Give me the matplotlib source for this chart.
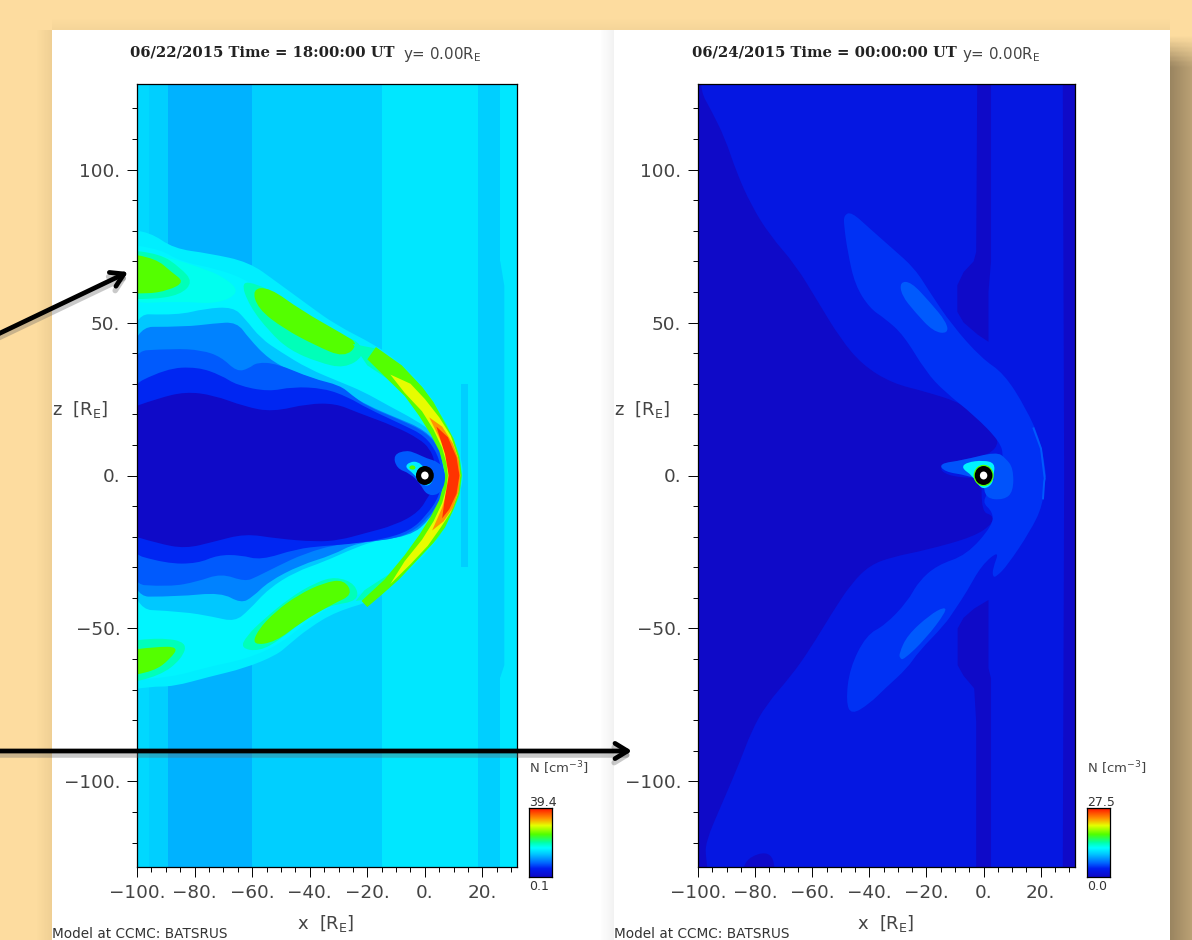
import numpy as np
import matplotlib
matplotlib.use('Agg')
import matplotlib.pyplot as plt
from matplotlib.colors import LinearSegmentedColormap
from matplotlib.patches import Circle, Rectangle, PathPatch
from matplotlib.path import Path
from matplotlib.ticker import FixedLocator, FixedFormatter

plt.rcParams['font.family'] = ['DejaVu Sans']
plt.rcParams['mathtext.default'] = 'regular'

# labels
titles = ['06/22/2015 Time = 18:00:00 UT', '06/24/2015 Time = 00:00:00 UT']
y_note = 'y= 0.00R$_{E}$'
model_note = 'Model at CCMC: BATSRUS'
x_ticks = [-100, -80, -60, -40, -20, 0, 20]
x_tick_labels = ['\u2212100.', '\u221280.', '\u221260.', '\u221240.', '\u221220.', '0.', '20.']
z_ticks = [-100, -50, 0, 50, 100]
z_tick_labels = ['\u2212100.', '\u221250.', '0.', '50.', '100.']
cbar_max = [39.4, 27.5]
cbar_min = ['0.1', '0.0']
x_range = [-100, 32]
z_range = [-128, 128]

# density levels of the 06/22 panel, cm-3
strip_edges_1 = [-100, -95.7, -89.3, -60, -15, 18.6, 26.2, 32]
strip_levels_1 = [14.1, 13.5, 11.9, 13.5, 15.0, 13.5, 15.0]
lvl_a, lvl_b, lvl_cyan, lvl_teal, lvl_green, lvl_yellow, lvl_orange, lvl_red = 15.4, 16.0, 17.2, 19.2, 24.5, 29.6, 33.5, 38.0
lvl_c1, lvl_c2, lvl_c3, lvl_c4, lvl_dark = 13.0, 9.5, 7.5, 5.2, 0.1

# contours of the 06/22 panel (x, z in RE)
strip_wide_mid = [(18.6, 70), (20.3, 62), (20.3, -62), (18.6, -66), (26.2, -66), (27.6, -62), (27.6, 62), (26.2, 70)]
strip_edge_mid = [(-15, 128), (-15, 70), (-17, 47), (-19, 47), (-19, 128)]
strip_edge_low = [(-15, -128), (-15, -65), (-17, -42), (-19, -42), (-19, -128)]
streak_up = [(-27.4, 46), (-24.7, 46), (-24.7, 60), (-26, 60), (-27.4, 52)]
streak_lo = [(-27.8, -46), (-24.7, -46), (-24.7, -60), (-26, -58), (-27.4, -52)]
streak_nose = [(12.4, 30), (15, 30), (15, -30), (12.4, -30)]
sheath_a = [(-100, 80.7), (-95.5, 79.6), (-87.3, 74.2), (-74.9, 72.6), (-61.1, 69.8), (-51.5, 63.3), (-40.5, 55.7),
            (-30.9, 49.2), (-17.1, 42.6), (-8.9, 37.2), (-0.6, 29.5), (7.6, 17.6), (12.4, 6.7), (13.4, 0), (12.4, -5),
            (10.4, -10.8), (4.9, -20.6), (-2, -28.2), (-10.2, -34.7), (-17.1, -40.7), (-30.9, -44.5), (-40.5, -50),
            (-47.4, -55.4), (-51.5, -58.7), (-62.5, -63), (-74.9, -65.8), (-87.3, -69), (-95.5, -69), (-100, -70.7)]
sheath_b = [(-100, 76), (-92, 74), (-85, 70), (-72, 67.5), (-62, 64), (-52, 58), (-40, 50), (-30, 45), (-18, 39.5),
            (-9, 33.5), (-1, 26), (6, 16), (10, 7), (11, 0), (10, -7), (5, -17), (-2, -25), (-10, -32), (-18, -37),
            (-31, -42), (-40, -47), (-50, -55), (-62, -60), (-75, -62.5), (-88, -66), (-100, -67)]
contour_c1 = [(-100, 53), (-85.9, 52.4), (-76.3, 54.6), (-66.6, 55.1), (-62.5, 51.3), (-57, 44.8), (-50.1, 40.4),
              (-40.5, 34.9), (-29.5, 30.6), (-21.3, 27.4), (-13, 23), (-3, 18), (3, 14), (7, 8), (8, 0), (7.2, -7),
              (3, -13), (-3, -17.5), (-15.8, -21), (-24, -23.5), (-35, -28.2), (-45, -31.5), (-54.3, -37), (-61.1, -44),
              (-66, -47.8), (-73.5, -46.2), (-84, -44.5), (-100, -43.5)]
contour_c2 = [(-100, 48.6), (-83.2, 48.6), (-73.5, 49.7), (-65.3, 50.2), (-61.1, 44.8), (-54.3, 38.1), (-46, 33.9),
              (-35, 30.6), (-26.8, 26.8), (-19.9, 22.9), (-10.2, 19), (0, 15), (6.5, 8), (7.5, 0), (6.7, -7), (2, -14),
              (-5, -20), (-24, -22), (-32, -26), (-43.3, -29.3), (-54.3, -34.7), (-59.8, -39.7), (-63.9, -41.8),
              (-70.8, -38.2), (-85.9, -39.6), (-100, -39.6)]
contour_c3 = [(-100, 40.4), (-87.3, 41.5), (-77.6, 41), (-70.8, 38.8), (-65.3, 33.9), (-61.1, 35), (-58.4, 37),
              (-51.5, 36.6), (-39.1, 31.7), (-29.5, 29.5), (-25.4, 26.3), (-19.9, 22.5), (-8.9, 18.3), (0.8, 14),
              (6, 7.5), (7, 0), (6.2, -7), (1.5, -13.5), (-5, -19), (-15, -21.5), (-29.5, -22.2), (-41.9, -25.5),
              (-51.5, -29.8), (-58.4, -33.1), (-62.5, -34.7), (-70.8, -32), (-79, -34.7), (-88.7, -36.4), (-100, -35.3)]
contour_c4 = [(-100, 27.4), (-90, 35), (-79, 35.5), (-70.8, 32.8), (-65.3, 29.5), (-54.3, 27.4), (-46, 29), (-35, 28.5),
              (-26.8, 25.7), (-19.9, 21.9), (-7.5, 16.5), (0, 13), (4.5, 7), (6.2, 0), (5, -7), (0.5, -13), (-5, -18),
              (-15, -21), (-26.8, -22.5), (-35, -23), (-44.6, -24), (-57, -27.7), (-64, -26), (-72, -26), (-79, -28.8),
              (-90, -28.8), (-100, -24.4)]
contour_dark = [(-100, 20.8), (-92.8, 25.2), (-83.2, 27.4), (-73.5, 26.3), (-62.5, 22.5), (-52.9, 20.8), (-40.5, 23.5),
                (-30.9, 23.5), (-24, 20.8), (-10.2, 16), (-2, 12), (1.7, 8.8), (3.5, 4.5), (3.8, 0), (3.5, -4),
                (1.4, -6.4), (-2, -11.9), (-10.2, -16.2), (-21.3, -19), (-29.5, -21.1), (-37.8, -21.7), (-51.5, -20.6),
                (-62.5, -19), (-73.5, -21.7), (-83.2, -23.9), (-92.8, -22.2), (-100, -18.4)]
teal_ridge_up = [(-64, 63.5), (-58, 62.5), (-52, 59.5), (-40, 51), (-30, 46), (-23, 44), (-21, 39), (-28, 35),
                 (-37, 37), (-47, 41), (-54, 47), (-61, 55.5)]
green_ridge_up = [(-60, 61), (-54, 61.5), (-43, 54), (-28, 46), (-23, 43), (-28, 38.5), (-38, 42.5), (-49, 48), (-58, 54.5)]
teal_ridge_lo = [(-64, -56.5), (-57.5, -57.5), (-50, -53.5), (-41, -46.5), (-33, -42.5), (-23, -41), (-24, -35.5), (-31, -33),
                 (-38, -35), (-47, -40), (-56, -47), (-62, -52.5)]
green_ridge_lo = [(-60, -55.5), (-52, -54.5), (-43, -48), (-32, -42), (-25, -39), (-28, -34), (-35, -35), (-44, -39),
                  (-52, -44.5), (-58, -50.5)]
cyan_blob_up = [(-100, 75), (-88, 71), (-78, 68), (-70, 65), (-64, 60), (-72, 56), (-85, 57), (-100, 56)]
teal_blob_up = [(-100, 74), (-92, 72.5), (-85, 68), (-80.5, 63.3), (-85, 59), (-95.5, 57.5), (-100, 58)]
green_blob_up = [(-100, 73), (-93.5, 71), (-88, 66.5), (-83.5, 63.3), (-89, 60.5), (-96.9, 59.3), (-100, 60)]
teal_blob_lo = [(-100, -54.5), (-92, -53), (-82.5, -54.5), (-84.5, -60), (-92, -65.5), (-100, -68.5)]
green_blob_lo = [(-100, -57.5), (-93.5, -56), (-85.5, -56), (-88.5, -60), (-94, -64), (-100, -66)]
teal_crescent = [(-25, 43), (-17, 41.5), (-8.5, 36), (-0.5, 28.5), (7.5, 17), (12, 7), (13, 0), (12, -7), (10, -11),
                 (5, -20), (-2, -27), (-10, -33.5), (-17, -40), (-24, -41), (-21, -37.5), (-12, -32), (-4, -23), (1, -17),
                 (5, -10), (6.9, 0), (5, 10), (1, 17), (-4, 23), (-12, 31), (-20, 36)]
green_crescent = [(-17, 42), (-8, 36), (-1, 29), (3, 24), (6.5, 18), (10, 12), (12, 6), (12.8, 0), (12, -6), (10, -11),
                  (7, -17), (3, -22), (-3, -28), (-9, -34), (-15, -39), (-20, -43), (-22, -41), (-14, -34), (-7, -26),
                  (-2, -19.5), (2, -13.5), (5, -8), (6.5, -3), (7, 0), (6.5, 3), (5, 8), (2, 13.5), (-2, 19.5), (-7, 26),
                  (-13, 31.5), (-20, 38)]
yellow_crescent = [(-12, 33), (-5, 30), (0, 25), (5, 19), (9, 13), (11.5, 6), (12.3, 0), (11.5, -6), (9, -12), (5.5, -17),
                   (1, -23), (-5, -29), (-12, -35.5), (-7, -28), (-1, -21), (3, -15), (6, -9), (7.5, -4), (8, 0), (7.5, 4),
                   (6, 9), (3, 15), (-1, 21), (-7, 27)]
orange_crescent = [(1.5, 19), (6, 16), (9.7, 10.5), (11.8, 5), (12.3, 0), (11.8, -5), (9.8, -10.5), (6.5, -15), (2.5, -18),
                   (6, -10.5), (7.8, -5), (8.2, 0), (7.8, 5), (6, 10.5)]
red_crescent = [(4, 16), (8, 12.5), (11, 6), (12, 0), (11, -6), (8.5, -11), (6, -14), (7, -7), (8.3, 0), (7, 7)]
earth_blue = [(-11, 6.8), (-6.4, 8.3), (-2.9, 7.2), (0.6, 5.6), (4.6, 4.5), (7, 1.8), (7, -3.1), (4.6, -6.4), (0.6, -6.4),
              (-1.7, -2.6), (-5.2, 0.7), (-9.8, 2.3)]
earth_cyan = [(-7, 2.8), (-5.2, 4.5), (-2.3, 4.5), (-0.6, 2.8), (2.9, 1.7), (2.9, -2), (0.6, -3.7), (-1.7, -2), (-4, 0.7)]
earth_green = [(-5.8, 2.8), (-4, 3.6), (-2.9, 2.3), (-4.6, 1.7)]

# density levels of the 06/24 panel
lvl2_bg, lvl2_dark, lvl2_tongue, lvl2_blob, lvl2_glow, lvl2_cyan, lvl2_green = 2.2, 0.0, 3.9, 5.2, 5.0, 11.0, 17.0

# contours of the 06/24 panel
dark_sector = [(-100, 128), (-99, 128), (-99, 125.4), (-95.7, 120), (-90.5, 110.2), (-86.6, 99.3), (-81.4, 88.4),
               (-74.9, 78.6), (-65.8, 68.8), (-58, 56.8), (-50.2, 44.8), (-42.4, 36.1), (-31.9, 30.1), (-20.2, 27.4),
               (-7.2, 23.5), (1.9, 16.5), (5.8, 11), (1.9, 6.7), (-5.9, 5.6), (-16, 3), (-13, 0), (-3.3, -1), (-0.7, 0.1),
               (-0.7, -11.9), (3.2, -13), (3.2, -15.7), (-3.3, -20), (-20.2, -24.4), (-31.9, -26.6), (-39.8, -29.3),
               (-46.3, -35.3), (-52.8, -44.5), (-60.6, -56.5), (-67.1, -65.2), (-76.2, -75), (-81.4, -83.8), (-85.3, -93.6),
               (-91.8, -107.7), (-97.3, -119.7), (-97.3, -125.2), (-95.7, -128), (-100, -128)]
dark_patch = [(-84, -125.2), (-73.6, -122.4), (-73, -128), (-84.3, -128)]
dark_bar_up = [(-2.2, 128), (2.6, 128), (2.6, 70), (1.7, 60), (1.7, 43.7), (-2, 46), (-7, 50), (-9.2, 53.5), (-9.2, 62.2),
               (-7, 66.5), (-3.5, 70), (-2.6, 73.1)]
dark_bar_lo = [(1.7, -40.7), (-3.3, -43.5), (-7, -46.5), (-9.1, -50), (-9.1, -62), (-7, -65.5), (-3.3, -69.6), (-2.6, -80.5),
               (-2.6, -128), (2.6, -128), (2.6, -66.3), (1.7, -63)]
dark_right = [(27.7, 128), (32, 128), (32, -128), (27.7, -128), (28.2, 0)]
tongue = [(-48.9, 85.1), (-46.3, 86.2), (-39.8, 80.7), (-31.9, 74.2), (-24.1, 67.7), (-18.9, 60), (-11.1, 49.2), (-0.7, 38.3),
          (7.1, 33.4), (14.9, 21.9), (20.1, 11), (22.1, -1), (21.4, 0.1), (20.8, -9.7), (16.2, -18.4), (8.4, -29.3),
          (4.5, -33.1), (3.2, -33.1), (3.2, -30.4), (5.6, -24.4), (-0.7, -29.3), (-5.9, -38), (-9.8, -43.5), (-13.7, -48.9),
          (-22.8, -57.6), (-26.7, -63), (-34.5, -69.6), (-39.8, -74.5), (-46.3, -78.3), (-48.2, -74), (-46.9, -63),
          (-41.1, -52.2), (-34.5, -48.9), (-26.7, -41.3), (-22.8, -34.7), (-16.3, -29.3), (-5.9, -26), (3.2, -16.2),
          (3.2, -11.9), (-0.7, -8.6), (3, -4), (5, 2), (7, 6), (5.8, 11), (-3.3, 19.7), (-13.7, 27.4), (-20.2, 33.9),
          (-28, 45.9), (-34.5, 51.3), (-39.8, 54.6), (-45, 62.2), (-47.6, 73.1), (-48.9, 81.8)]
blob2_up = [(-29.3, 63.3), (-25.4, 63.3), (-18.9, 56.8), (-13, 50.2), (-12.4, 46.4), (-17.6, 47), (-24.1, 53.5), (-28.7, 58.9)]
blob2_lo = [(-29.3, -59.8), (-28, -60.3), (-20.2, -53.3), (-13.1, -44.5), (-13.7, -42.9), (-18.9, -45.6), (-26.7, -52.2), (-29.6, -58.2)]
glow2 = [(-15.7, 3.9), (-7.2, 5), (4.5, 7.8), (7.8, 5.6), (10.4, 2.3), (10.4, -5.3), (7.1, -8), (0.6, -7.5), (0, -2), (-5.9, 0.1), (-13.7, 1.2)]
cyan2 = [(-7.8, 2.5), (-6, 4.3), (0, 5), (4, 4), (3.5, 0), (3, -3), (0, -4.5), (-2, -3), (-4, 0)]
thin_arc_x = [17.5, 20.1, 21.4, 21.2, 20.8]
thin_arc_z = [15.4, 8.8, -1, -2, -7.5]

peach = '#fddc9f'
cmap_fracs = [0, 0.12, 0.2, 0.33, 0.42, 0.5, 0.62, 0.75, 0.85, 1]
cmap_cols = ['#0f0ac8', '#001ef0', '#0064ff', '#00c8ff', '#00ffff', '#00ffaa', '#50ff00', '#e6ff00', '#ff9600', '#ff1400']
jet = LinearSegmentedColormap.from_list('ccmc', list(zip(cmap_fracs, cmap_cols)))


def band(ax, pts, level, vmax, z=2, smooth=True):
    # contour edges on the frame are pushed out so rounding does not leave a gap
    p = np.array(pts, dtype=float)
    p[p[:, 0] <= x_range[0], 0] -= 6
    p[p[:, 0] >= x_range[1], 0] += 6
    p[p[:, 1] >= z_range[1], 1] += 6
    p[p[:, 1] <= z_range[0], 1] -= 6
    if not smooth:
        ax.fill(p[:, 0], p[:, 1], color=jet(level / vmax), lw=0, zorder=z)
        return
    mids = (p + np.roll(p, -1, axis=0)) / 2
    verts = [mids[-1]]
    codes = [Path.MOVETO]
    for i in range(len(p)):
        verts += [p[i], mids[i]]
        codes += [Path.CURVE3, Path.CURVE3]
    ax.add_patch(PathPatch(Path(verts, codes), facecolor=jet(level / vmax), lw=0, zorder=z))


def setup_axes(ax):
    ax.set_xlim(x_range)
    ax.set_ylim(z_range)
    ax.xaxis.set_major_locator(FixedLocator(x_ticks))
    ax.xaxis.set_major_formatter(FixedFormatter(x_tick_labels))
    ax.yaxis.set_major_locator(FixedLocator(z_ticks))
    ax.yaxis.set_major_formatter(FixedFormatter(z_tick_labels))
    ax.xaxis.set_minor_locator(FixedLocator(np.arange(-95, 32, 5)))
    ax.yaxis.set_minor_locator(FixedLocator(np.arange(-120, 121, 10)))
    ax.tick_params(which='major', length=7, width=0.7, labelsize=13.2, labelcolor='#444444', pad=5)
    ax.tick_params(which='minor', length=3.5, width=0.7)
    for s in ax.spines.values():
        s.set_linewidth(0.9)
        s.set_zorder(20)


def earth(ax, vmax, ring=False):
    if ring:
        ax.add_patch(Circle((0, 0), 3.5, color=jet(lvl2_green / vmax), lw=0, zorder=8))
    ax.add_patch(Circle((0, 0), 3.1, color='black', lw=0, zorder=9))
    ax.add_patch(Circle((0, 0), 1.3, color='white', lw=0, zorder=10))


fig = plt.figure(figsize=(11.92, 9.40), dpi=100, facecolor=peach)

# page and shadows, pixel coordinates
bg = fig.add_axes([0, 0, 1, 1], zorder=0)
ramp = np.linspace(0, 1, 32)
shade = np.zeros((1, 32, 4))
shade[..., :3] = (0.45, 0.38, 0.22)
shade[..., 3] = ramp * 0.10
bg.imshow(shade, extent=(36, 52, 940, 30), aspect='auto', zorder=1)
shade_top = np.zeros((32, 1, 4))
shade_top[..., :3] = (0.45, 0.38, 0.22)
shade_top[..., 3] = (ramp * 0.06)[:, None]
bg.imshow(shade_top, extent=(52, 1170, 30, 18), aspect='auto', zorder=1, origin='upper')
rows = np.clip((np.arange(200) * 940 / 200 - 34) / 30, 0, 1)
shade_r = np.zeros((200, 32, 4))
shade_r[..., :3] = (0.42, 0.36, 0.26)
shade_r[..., 3] = rows[:, None] * (0.68 - ramp * 0.22)
bg.imshow(shade_r, extent=(1170, 1192, 940, 0), aspect='auto', zorder=1, origin='upper')
bg.add_patch(Rectangle((52, 30), 1118, 920, color='white', lw=0, zorder=2))
shade_m = np.zeros((1, 32, 4))
shade_m[..., :3] = 0.5
shade_m[..., 3] = ramp * 0.10
bg.imshow(shade_m, extent=(600, 614, 940, 30), aspect='auto', zorder=3)
bg.set_xlim(0, 1192)
bg.set_ylim(940, 0)
bg.axis('off')

# left panel
ax1 = fig.add_axes([137 / 1192, 1 - 867 / 940, 380 / 1192, 783 / 940], zorder=2)
vmax1 = cbar_max[0]
ax1.pcolormesh(strip_edges_1, z_range, np.array([strip_levels_1]), cmap=jet, vmin=0, vmax=vmax1, zorder=1)
band(ax1, strip_wide_mid, strip_levels_1[5], vmax1, smooth=False)
band(ax1, strip_edge_mid, strip_levels_1[3], vmax1, smooth=False)
band(ax1, strip_edge_low, strip_levels_1[3], vmax1, smooth=False)
for st in [streak_up, streak_lo, streak_nose]:
    band(ax1, st, strip_levels_1[5], vmax1, smooth=False)
band(ax1, sheath_a, lvl_a, vmax1, 3)
band(ax1, sheath_b, lvl_b, vmax1, 3)
band(ax1, cyan_blob_up, lvl_cyan, vmax1, 4)
for b in [teal_ridge_up, teal_ridge_lo, teal_blob_up, teal_blob_lo]:
    band(ax1, b, lvl_teal, vmax1, 4)
for b in [green_ridge_up, green_ridge_lo, green_blob_up, green_blob_lo]:
    band(ax1, b, lvl_green, vmax1, 4)
band(ax1, contour_c1, lvl_c1, vmax1, 5)
band(ax1, contour_c2, lvl_c2, vmax1, 5)
band(ax1, contour_c3, lvl_c3, vmax1, 5)
band(ax1, contour_c4, lvl_c4, vmax1, 5)
band(ax1, contour_dark, lvl_dark, vmax1, 5)
band(ax1, teal_crescent, lvl_teal, vmax1, 6, smooth=False)
band(ax1, green_crescent, lvl_green, vmax1, 6, smooth=False)
band(ax1, yellow_crescent, lvl_yellow, vmax1, 6, smooth=False)
band(ax1, orange_crescent, lvl_orange, vmax1, 6, smooth=False)
band(ax1, red_crescent, lvl_red, vmax1, 6, smooth=False)
band(ax1, earth_blue, lvl_c3, vmax1, 7)
band(ax1, earth_cyan, lvl_a, vmax1, 7)
band(ax1, earth_green, lvl_green, vmax1, 7)
earth(ax1, vmax1)
setup_axes(ax1)

# right panel
ax2 = fig.add_axes([698 / 1192, 1 - 867 / 940, 377 / 1192, 783 / 940], zorder=2)
vmax2 = cbar_max[1]
ax2.set_facecolor(jet(lvl2_bg / vmax2))
band(ax2, dark_sector, lvl2_dark, vmax2)
band(ax2, dark_patch, lvl2_dark, vmax2)
band(ax2, dark_bar_up, lvl2_dark, vmax2, smooth=False)
band(ax2, dark_bar_lo, lvl2_dark, vmax2, smooth=False)
band(ax2, dark_right, lvl2_dark, vmax2, smooth=False)
band(ax2, tongue, lvl2_tongue, vmax2, 3)
band(ax2, blob2_up, lvl2_blob, vmax2, 4)
band(ax2, blob2_lo, lvl2_blob, vmax2, 4)
ax2.plot(thin_arc_x, thin_arc_z, color=jet(lvl2_blob / vmax2), lw=1.4, zorder=4)
band(ax2, glow2, lvl2_glow, vmax2, 5)
band(ax2, cyan2, lvl2_cyan, vmax2, 6)
earth(ax2, vmax2, ring=True)
setup_axes(ax2)

# colorbars
grad = np.linspace(0, 1, 128)[:, None]
for left, i in [(529, 0), (1087, 1)]:
    cax = fig.add_axes([left / 1192, 1 - 877 / 940, 23 / 1192, 69 / 940], zorder=2)
    cax.imshow(grad, cmap=jet, origin='lower', aspect='auto')
    cax.set_xticks([])
    cax.set_yticks([])
    for s in cax.spines.values():
        s.set_linewidth(0.9)

# texts and arrows on top, pixel coordinates
top = fig.add_axes([0, 0, 1, 1], zorder=5)
top.set_xlim(0, 1192)
top.set_ylim(940, 0)
top.axis('off')
top.patch.set_alpha(0)

for i, (tx, nx, lx, zx, xx, cx) in enumerate([(130, 403, 52, 52, 326, 529), (692, 962, 614, 614, 886, 1087)]):
    top.text(tx, 52, titles[i], family='DejaVu Serif', weight='bold', fontsize=10.6, va='center', color='#222222')
    top.text(nx, 54, y_note, fontsize=10.8, va='center', color='#444444')
    top.text(zx, 409, 'z  [R$_{E}$]', fontsize=13, va='center', color='#444444')
    top.text(xx, 924, 'x  [R$_{E}$]', fontsize=13, va='center', ha='center', color='#444444')
    top.text(lx, 938, model_note, fontsize=9.8, va='baseline', color='#333333')
    top.text(cx, 768, 'N [cm$^{-3}$]', fontsize=9.5, va='center', color='#444444')
    top.text(cx, 802, '%.1f' % cbar_max[i], fontsize=9, va='center', color='#333333')
    top.text(cx, 887, cbar_min[i], fontsize=9, va='center', color='#333333')

for (x0, y0, x1, y1) in [(-6, 336, 128, 272), (-6, 751, 632, 751)]:
    top.annotate('', xy=(x1, y1 + 4), xytext=(x0, y0 + 4),
                 arrowprops=dict(arrowstyle='->,head_length=0.9,head_width=0.55', color='#666666', alpha=0.35, lw=4, shrinkA=0, shrinkB=0))
    top.annotate('', xy=(x1, y1), xytext=(x0, y0),
                 arrowprops=dict(arrowstyle='->,head_length=0.9,head_width=0.55', color='black', lw=3.4, shrinkA=0, shrinkB=0))

fig.savefig('out.png', dpi=100, facecolor=peach)
